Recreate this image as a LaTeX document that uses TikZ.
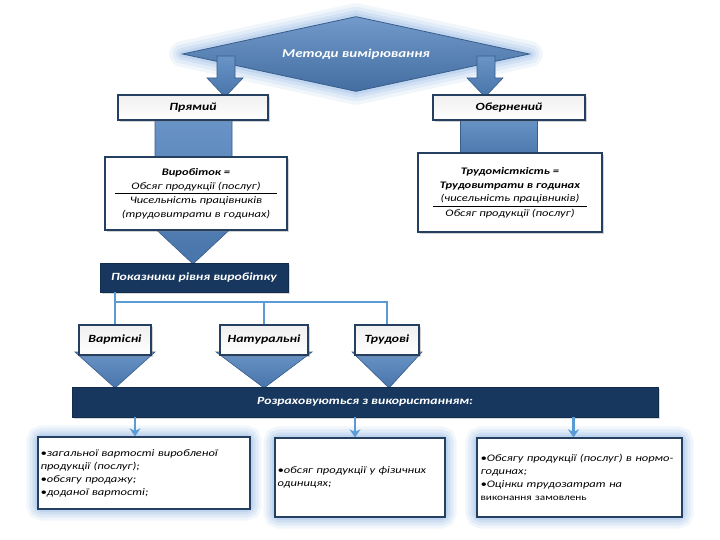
\documentclass[tikz,border=0pt]{standalone}
\usepackage{fontspec}
\setmainfont{Carlito}[FakeStretch=1.25]
\usetikzlibrary{shapes.geometric,shadows,arrows.meta,calc,backgrounds}
\definecolor{navy}{HTML}{17375E}
\definecolor{mblue}{HTML}{4F81BD}
\definecolor{dblue}{HTML}{385D8A}
\definecolor{lblue}{HTML}{5B9BD5}
\definecolor{glowc}{HTML}{8DB3E2}
\definecolor{bord}{HTML}{243F60}
\begin{document}
\begin{tikzpicture}[x=1pt,y=-1pt,
  titlebox/.style={draw=bord, line width=1.1pt, top color=gray!12, bottom color=white, inner sep=0pt,
     drop shadow={shadow xshift=2pt, shadow yshift=-2pt, opacity=.35},
     font=\fontsize{11}{13}\selectfont\bfseries\itshape},
  formbox/.style={draw=bord, line width=1.1pt, fill=white, inner sep=0pt,
     drop shadow={shadow xshift=2pt, shadow yshift=-2pt, opacity=.35},
     font=\fontsize{10}{12}\selectfont\itshape},
  navybox/.style={draw=navy!80!black, fill=navy, text=white, inner sep=0pt,
     drop shadow={shadow xshift=1.5pt, shadow yshift=-1.5pt, opacity=.3},
     font=\fontsize{11}{13}\selectfont\bfseries\itshape},
  listbox/.style={draw=bord, line width=1.3pt, fill=white, inner sep=0pt},
  listtext/.style={align=left, inner sep=0pt, font=\fontsize{10}{13}\selectfont\itshape},
  barrow/.style={draw=dblue, line width=.6pt, top color=mblue!85!white, bottom color=mblue!90!black},
  conn/.style={draw=lblue, line width=2pt},
  smallarrow/.style={draw=lblue, line width=2.6pt, -{Stealth[length=8pt,width=11pt]}}
]
\useasboundingbox (0,0) rectangle (720,540);

% ---- diamond
\node[diamond, aspect=4.6, inner sep=0pt, minimum width=347pt, minimum height=75pt,
      top color=mblue!80!white, bottom color=mblue!85!black, draw=dblue, line width=.8pt,
      text=white, font=\fontsize{12}{14}\selectfont\bfseries\itshape] (m) at (356,54) {Методи вимірювання};
\begin{pgfonlayer}{background}
  \foreach \w/\o in {26/.12,19/.15,12/.2,6/.25}
    \draw[glowc, line width=\w pt, opacity=\o, line join=round] (m.north) -- (m.east) -- (m.south) -- (m.west) -- cycle;
\end{pgfonlayer}

% ---- arrows from diamond
\path[barrow] (217,56) -- (235,56) -- (235,78) -- (243,78) -- (225,97) -- (207,78) -- (217,78) -- cycle;
\path[barrow] (477,56) -- (495,56) -- (495,78) -- (503,78) -- (485,97) -- (467,78) -- (477,78) -- cycle;

% ---- big block arrows behind formula boxes
\path[barrow] (155,118) -- (232,118) -- (232,222) -- (238,222) -- (193,264) -- (148,222) -- (155,222) -- cycle;
\path[barrow] (460,118) rectangle (537,160);

% ---- title boxes
\node[titlebox, minimum width=150pt, minimum height=25pt] (pr) at (193,107.5) {Прямий};
\node[titlebox, minimum width=152pt, minimum height=25pt] (ob) at (509,107.5) {Обернений};

% ---- formula boxes
\node[formbox, minimum width=182pt, minimum height=73pt] (f1) at (196,193.5)
  {\renewcommand{\arraystretch}{1.15}\begin{tabular}{@{\hspace{7pt}}c@{\hspace{7pt}}}
   \bfseries Виробіток =\\ Обсяг продукції (послуг)\\ \hline Чисельність працівників\\ (трудовитрати в годинах)\end{tabular}};
\node[formbox, minimum width=184pt, minimum height=79pt] (f2) at (510,192.5)
  {\renewcommand{\arraystretch}{1.15}\begin{tabular}{@{\hspace{7pt}}c@{\hspace{7pt}}}
   \bfseries Трудомісткість =\\ \bfseries Трудовитрати в годинах\\ (чисельність працівників)\\ \hline Обсяг продукції (послуг)\end{tabular}};

% ---- indicator box
\node[navybox, minimum width=188pt, minimum height=29pt] (pk) at (194,277.5) {Показники рівня виробітку};

% ---- triangles under small boxes
\path[barrow] (75,352) -- (155,352) -- (115,388) -- cycle;
\path[barrow] (216,352) -- (312,352) -- (264,388) -- cycle;
\path[barrow] (352,352) -- (422,352) -- (389,388) -- cycle;

% ---- small boxes
\node[titlebox, minimum width=72pt, minimum height=30pt] (va) at (115,340) {Вартісні};
\node[titlebox, minimum width=88pt, minimum height=30pt] (na) at (264,340) {Натуральні};
\node[titlebox, minimum width=64pt, minimum height=30pt] (tr) at (387,340) {Трудові};

% ---- connectors
\coordinate (hb) at (0,302);
\draw[conn] (va.north |- pk.south) -- (va.north);
\draw[conn] (va.north |- hb) -| (tr.north);
\draw[conn] (na.north |- hb) -- (na.north);

% ---- bar
\node[navybox, minimum width=586pt, minimum height=30pt] (bar) at (365,402) {Розраховуються з використанням:};

% ---- bottom boxes
\node[listbox, minimum width=212pt, minimum height=72pt] (b1) at (144,473) {};
\node[listbox, minimum width=170pt, minimum height=79pt] (b2) at (360,477.5) {};
\node[listbox, minimum width=205pt, minimum height=79pt] (b3) at (579.5,477.5) {};
\begin{pgfonlayer}{background}
  \foreach \b in {b1,b2,b3}
    \foreach \w/\o in {22/.12,16/.16,10/.2,5/.25}
      \draw[glowc, line width=\w pt, opacity=\o, rounded corners=5pt] (\b.north west) rectangle (\b.south east);
\end{pgfonlayer}
\node[listtext, text width=204pt, anchor=west] (t1) at ([xshift=3pt]b1.west)
  {•загальної вартості виробленої продукції (послуг);\\•обсягу продажу;\\•доданої вартості;};
\node[listtext, text width=162pt, anchor=west] (t2) at ([xshift=3pt]b2.west)
  {•обсяг продукції у фізичних одиницях;};
\node[listtext, text width=198pt, anchor=west] (t3) at ([xshift=4pt]b3.west)
  {•Обсягу продукції (послуг) в нормо-годинах;\\•Оцінки трудозатрат на\\{\upshape\fontsize{9}{13}\selectfont виконання замовлень}};

% ---- arrows from bar
\coordinate (e1) at ([xshift=-9pt]b1.north);
\coordinate (e2) at ([xshift=-5pt]b2.north);
\coordinate (e3) at ([xshift=-6pt]b3.north);
\draw[smallarrow] (bar.south -| e1) -- (e1);
\draw[smallarrow] (bar.south -| e2) -- (e2);
\draw[smallarrow] (bar.south -| e3) -- (e3);
\end{tikzpicture}
\end{document}
